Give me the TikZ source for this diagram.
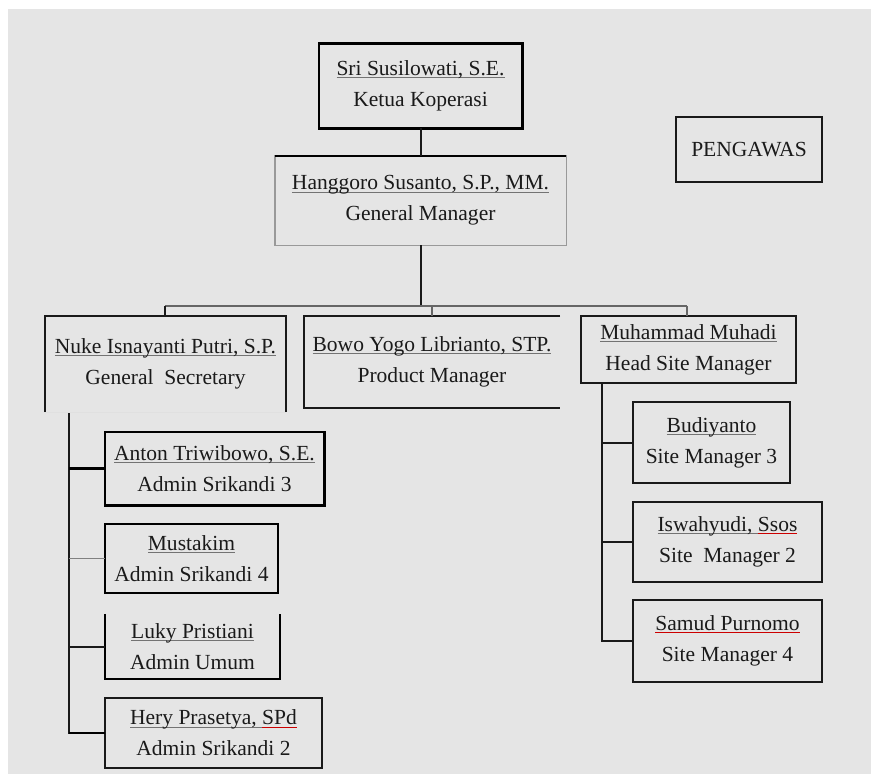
\documentclass[tikz,border=0pt]{standalone}
\usepackage{fontspec}
\setmainfont{Liberation Serif}
\definecolor{bgc}{HTML}{E5E5E5}
\definecolor{txt}{HTML}{1A1A1A}
\newsavebox\ulbox
\newcommand\nm[1]{\sbox\ulbox{#1}\rlap{\textcolor{black!55}{\rule[-2.6pt]{\wd\ulbox}{0.9pt}}}\usebox\ulbox}
\newcommand\rnm[1]{\sbox\ulbox{#1}\rlap{\textcolor{red!80!black}{\rule[-2.6pt]{\wd\ulbox}{0.9pt}}}\usebox\ulbox}
\tikzset{
  box/.style={rectangle, inner sep=0pt, align=center, text=txt,
    font=\fontsize{21.6}{31}\selectfont},
  bd/.style={line width=1.8bp, black!90},
  thk/.style={line width=2.6bp, black},
  lite/.style={line width=1.4bp, black!40},
  conn/.style={line width=2bp, black!90},
  thinc/.style={line width=1.2bp, black!60},
}
\begin{document}
\begin{tikzpicture}[x=1bp,y=-1bp]
\useasboundingbox (0,0) rectangle (871,774);
\fill[white] (0,0) rectangle (871,774);
\fill[bgc] (8,9) rectangle (871,774);

% nodes (centre, width, height)
\node[box, minimum width=203bp, minimum height=84bp] (sri) at (420.5,86) {\nm{Sri Susilowati, S.E.}\\Ketua Koperasi};
\node[box, minimum width=291bp, minimum height=89bp] (gm) at (420.5,200.5) {\nm{Hanggoro Susanto, S.P., MM.}\\General Manager};
\node[box, minimum width=146bp, minimum height=65bp] (peng) at (749,149.5) {PENGAWAS};
\node[box, minimum width=241bp, minimum height=96bp] (nuke) at (165.5,364) {\nm{Nuke Isnayanti Putri, S.P.}\\General\ \ Secretary};
\node[box, minimum width=256bp, minimum height=92bp] (bowo) at (432,362) {\nm{Bowo Yogo Librianto, STP.}\\Product Manager};
\node[box, minimum width=215bp, minimum height=67bp] (muh) at (688.5,349.5) {\nm{Muhammad Muhadi}\\Head Site Manager};
\node[box, minimum width=219bp, minimum height=73bp] (anton) at (214.5,468.5) {\nm{Anton Triwibowo, S.E.}\\Admin Srikandi 3};
\node[box, minimum width=173bp, minimum height=69bp] (must) at (191.5,558.5) {\nm{Mustakim}\\Admin Srikandi 4};
\node[box, minimum width=175bp, minimum height=65bp] (luky) at (192.5,646.5) {\nm{Luky Pristiani}\\Admin Umum};
\node[box, minimum width=217bp, minimum height=70bp] (hery) at (213.5,733) {\nm{Hery Prasetya,\ }\rnm{SPd}\\Admin Srikandi 2};
\node[box, minimum width=157bp, minimum height=81bp] (budi) at (711.5,442.5) {\nm{Budiyanto}\\Site Manager 3};
\node[box, minimum width=189bp, minimum height=80bp] (isw) at (727.5,542) {\nm{Iswahyudi,\ }\rnm{Ssos}\\Site\ \ Manager 2};
\node[box, minimum width=189bp, minimum height=82bp] (samud) at (727.5,641) {\rnm{Samud Purnomo}\\Site Manager 4};

% borders
\draw[thk] (sri.north west) rectangle (sri.south east);
\draw[lite] (gm.north west) rectangle (gm.south east);
\draw[line width=2.2bp, black] (gm.north west) -- (gm.north east);
\draw[bd] (peng.north west) rectangle (peng.south east);
\draw[line width=0.8bp, black!12] (nuke.south west) -- (nuke.south east);
\draw[bd] (nuke.south west) -- (nuke.north west) -- (nuke.north east) -- (nuke.south east);
\draw[bd] (bowo.north east) -- (bowo.north west) -- (bowo.south west) -- (bowo.south east);
\draw[bd] (muh.north west) rectangle (muh.south east);
\draw[thk] (anton.north west) rectangle (anton.south east);
\draw[line width=2.2bp, black] (must.north west) rectangle (must.south east);
\draw[line width=2.2bp, black] (luky.north west) -- (luky.south west) -- (luky.south east) -- (luky.north east);
\draw[bd] (hery.north west) rectangle (hery.south east);
\draw[bd] (budi.north west) rectangle (budi.south east);
\draw[bd] (isw.north west) rectangle (isw.south east);
\draw[bd] (samud.north west) rectangle (samud.south east);

% connectors
\coordinate (busL) at (165,306);
\coordinate (busM) at (432,306);
\coordinate (busR) at (687,306);
\draw[conn] (sri.south) -- (gm.north);
\draw[conn] (gm.south) -- (gm.south |- busL);
\draw[thinc] (busL) -- (busR);
\draw[conn] (busL) -- (busL |- nuke.north);
\draw[thinc] (busM) -- (bowo.north);
\draw[thinc] (busR) -- (busR |- muh.north);

\coordinate (ns) at (69,413);
\draw[conn] (ns) |- (hery.west);
\draw[thk] (ns |- anton.west) -- (anton.west);
\draw[line width=1.2bp, black!50] (ns |- must.west) -- (must.west);
\draw[conn] (ns |- luky.west) -- (luky.west);
\draw[thk] (ns |- hery.west) -- (hery.west);

\coordinate (ms) at (602,383);
\draw[conn] (ms) |- (samud.west);
\draw[conn] (ms |- budi.west) -- (budi.west);
\draw[conn] (ms |- isw.west) -- (isw.west);
\end{tikzpicture}
\end{document}
